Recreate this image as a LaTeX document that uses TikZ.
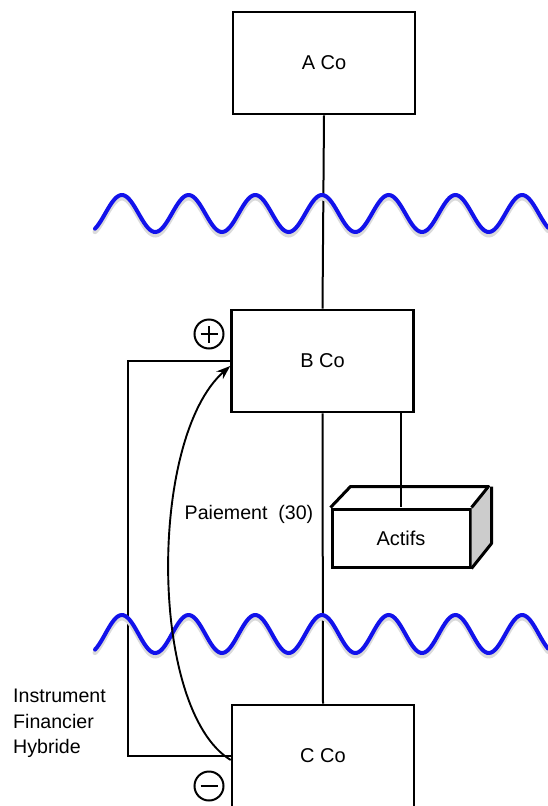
\documentclass[tikz,border=0pt]{standalone}
\usepackage{fontspec}
\setmainfont{Liberation Sans}
\usetikzlibrary{arrows.meta,calc}
\definecolor{wavecol}{RGB}{18,18,235}
\definecolor{facegray}{RGB}{204,204,204}
\begin{document}
\begin{tikzpicture}[x=1pt,y=-1pt,
  cobox/.style={draw, line width=2.6pt, minimum width=182pt, minimum height=102pt, font=\fontsize{20}{24}\selectfont},
  link/.style={line width=2pt},
  wave/.style={draw=wavecol, line width=4pt, line cap=round},
  waveshadow/.style={draw=black!14, line width=5pt, line cap=round},
  sign/.style={draw, circle, line width=2pt, minimum size=29pt, inner sep=0pt},
  lbl/.style={font=\fontsize{19.6}{25.5}\selectfont, inner sep=0pt}]
\useasboundingbox (0,0) rectangle (548,806);

% boxes
\node[cobox] (A) at (324,63) {A Co};
\node[cobox] (B) at (322.5,361) {B Co};
\node[cobox] (C) at (323,756) {C Co};

% Actifs cuboid
\node[draw, line width=3pt, minimum width=138pt, minimum height=58pt, font=\fontsize{20}{24}\selectfont] (act) at (401,538) {Actifs};
\fill[facegray] (act.north east) -- ++(20,-21) -- ++(0,57) -- (act.south east) -- cycle;
\draw[line width=3pt, line join=round] (act.north west) -- ++(20,-21) -- ++(138,0) -- (act.north east);
\draw[line width=3pt, line join=round] ($(act.north east)+(20,-21)$) -- ++(0,57) -- (act.south east);

% connectors
\draw[link] (A.south) -- (B.north);
\draw[link] (B.south) -- (C.north);
\draw[link] (B.south -| act.north) -- ($(act.north)+(0,-1)$);
\draw[link] (B.west) -- ++(-102,0) |- (C.west);

% waves
\draw[waveshadow] plot[domain=95:548, samples=240] (\x, {216.5 - 18.5*cos(5.397*(\x-322))});
\draw[wave] plot[domain=95:548, samples=240] (\x, {213.5 - 18.5*cos(5.397*(\x-322))});
\draw[waveshadow] plot[domain=95:548, samples=240] (\x, {637 - 19*cos(5.397*(\x-322))});
\draw[wave] plot[domain=95:548, samples=240] (\x, {634 - 19*cos(5.397*(\x-322))});

% payment arrow
\draw[line width=1.9pt, -{Stealth[length=14pt,width=10pt]}]
  ([yshift=-4pt]C.west) .. controls ($(C.west)+(-82,-46)$) and ($(B.west)+(-82,77)$) .. ([yshift=-5pt]B.west);

% signs
\node[sign] (plus) at (209,334) {};
\draw[line width=2pt] ([xshift=-8.5pt]plus.center) -- ([xshift=8.5pt]plus.center);
\draw[line width=2pt] ([yshift=-8.5pt]plus.center) -- ([yshift=8.5pt]plus.center);
\node[sign] (minus) at (209,786) {};
\draw[line width=2.6pt] ([xshift=-8.5pt]minus.center) -- ([xshift=8.5pt]minus.center);

% labels
\node[lbl] (pay) at (249,514) {Paiement\ \ (30)};
\node[lbl, anchor=north west, align=left] (hyb) at (13,689) {Instrument\\Financier\\Hybride};
\end{tikzpicture}
\end{document}
